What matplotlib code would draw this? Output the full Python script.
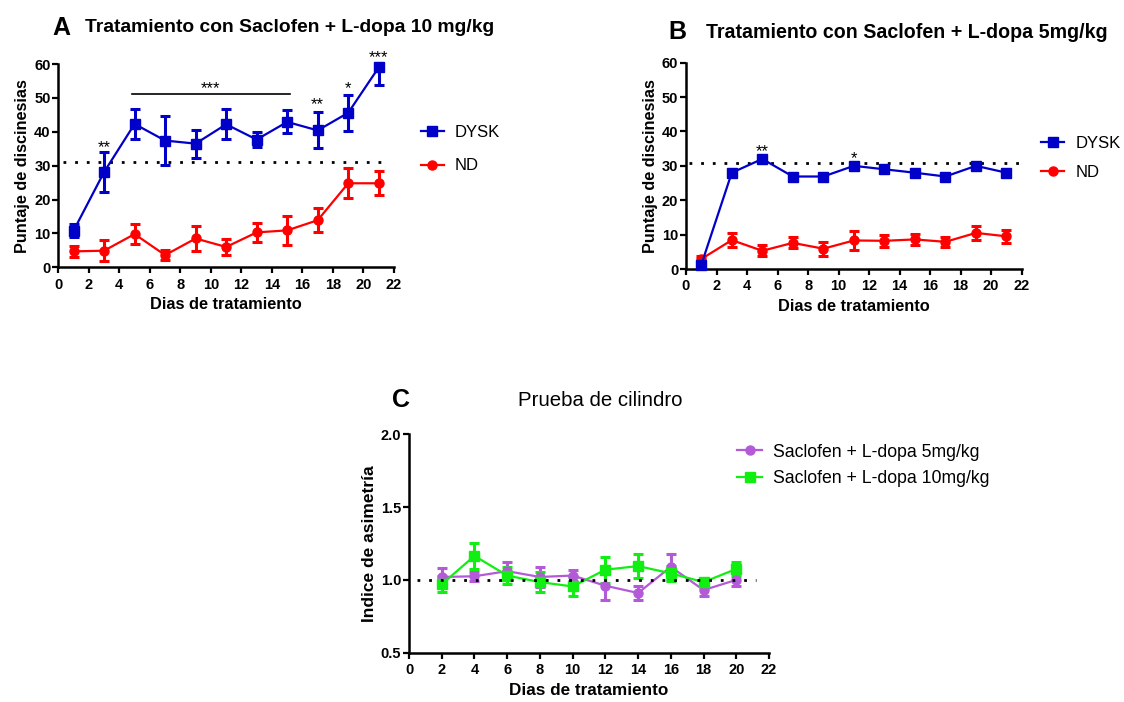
import matplotlib.pyplot as plt
from matplotlib.lines import Line2D

# --- data ---
dias = [1, 3, 5, 7, 9, 11, 13, 15, 17, 19, 21]

dysk_10 = [10.8, 28.1, 42.3, 37.4, 36.5, 42.2, 37.7, 42.9, 40.4, 45.6, 59.0]
dysk_10_err_low = [1.9, 5.8, 4.4, 7.2, 4.1, 4.4, 2.3, 3.4, 5.3, 5.3, 5.2]
dysk_10_err_up = [1.9, 5.8, 4.4, 7.2, 4.1, 4.4, 2.3, 3.4, 5.3, 5.3, 0.0]
nd_10 = [4.7, 4.9, 9.8, 3.6, 8.5, 6.0, 10.3, 10.9, 13.9, 24.8, 24.8]
nd_10_err = [1.6, 3.1, 2.9, 1.4, 3.6, 2.3, 2.7, 4.2, 3.5, 4.4, 3.5]

dysk_5 = [1.2, 28.0, 32.0, 26.9, 26.9, 30.0, 29.0, 28.0, 26.9, 30.0, 28.0]
dysk_5_err = [0.4, 0.4, 0.4, 0.4, 0.4, 0.4, 0.4, 0.4, 0.4, 0.4, 0.4]
nd_5 = [2.9, 8.4, 5.3, 7.6, 5.9, 8.3, 8.2, 8.6, 7.9, 10.5, 9.5]
nd_5_err = [0.9, 2.1, 1.6, 1.6, 2.0, 2.8, 1.8, 1.7, 1.5, 2.1, 1.8]

dias_c = [2, 4, 6, 8, 10, 12, 14, 16, 18, 20]
asim_5 = [1.02, 1.025, 1.06, 1.02, 1.03, 0.96, 0.91, 1.09, 0.93, 1.0]
asim_5_err = [0.06, 0.03, 0.06, 0.07, 0.04, 0.10, 0.05, 0.09, 0.04, 0.045]
asim_10 = [0.97, 1.165, 1.03, 0.985, 0.955, 1.07, 1.095, 1.045, 0.985, 1.075]
asim_10_err = [0.055, 0.09, 0.06, 0.07, 0.065, 0.088, 0.08, 0.05, 0.02, 0.05]

umbral_dysk_a = 31.1
umbral_dysk_b = 30.7
umbral_asim = 1.0

W, H = 1124, 702

plt.rcParams['font.family'] = ['Liberation Sans', 'DejaVu Sans']

BLUE = '#0000c8'
RED = '#ff0000'
PURPLE = '#b45ad8'
GREEN = '#11ee11'

fig = plt.figure(figsize=(W / 100, H / 100), dpi=100)


def ax_at(l, r, t, b):
    return fig.add_axes([l / W, 1 - b / H, (r - l) / W, (b - t) / H])


def style(ax):
    for s in ['top', 'right']:
        ax.spines[s].set_visible(False)
    for s in ['left', 'bottom']:
        ax.spines[s].set_linewidth(1.8)
    ax.tick_params(width=1.6, length=4, direction='out')
    ax.tick_params(axis='x', pad=3.5)
    ax.tick_params(axis='y', pad=1.5)
    for lab in ax.get_xticklabels() + ax.get_yticklabels():
        lab.set_fontweight('bold')
        lab.set_fontsize(10.5)


def serie(ax, x, y, e, color, marker, ms, cap=3.8):
    ax.errorbar(x, y, yerr=e, color=color, marker=marker, ms=ms, lw=1.6,
                elinewidth=2.2, capsize=cap, capthick=2.2,
                clip_on=False, zorder=3)


def handle(color, marker, ms):
    return Line2D([], [], color=color, marker=marker, ms=ms, lw=1.6)


def stars(ax, pts):
    for xs, ys, t in pts:
        ax.text(xs, ys, t, ha='center', va='baseline', fontsize=12)


# ---- Panel A ----
axA = ax_at(58.3, 394, 64, 267.3)
serie(axA, dias, nd_10, nd_10_err, RED, 'o', 6.5)
serie(axA, dias, dysk_10, [dysk_10_err_low, dysk_10_err_up], BLUE, 's', 7.3)
axA.plot([0.3, 21.6], [umbral_dysk_a] * 2, color='k', ls=(0, (1, 3.2)), lw=2.0)
axA.plot([4.8, 15.2], [51.1, 51.1], color='k', lw=1.2)
stars(axA, [(10, 51.5, '***'), (3, 33.9, '**'), (17, 46.6, '**'),
            (19, 51.5, '*'), (21, 60.5, '***')])
axA.set_xlim(0, 22)
axA.set_ylim(0, 60)
axA.set_xticks(range(0, 23, 2))
axA.set_yticks(range(0, 61, 10))
axA.set_xlabel('Dias de tratamiento', fontweight='bold', fontsize=11.8, labelpad=4)
axA.set_ylabel('Puntaje de discinesias', fontweight='bold', fontsize=11.7, labelpad=3)
style(axA)
axA.legend([handle(BLUE, 's', 7.3), handle(RED, 'o', 6.5)], ['DYSK', 'ND'],
           loc='center left', bbox_to_anchor=(1.035, 0.581),
           frameon=False, fontsize=12, handlelength=1.38, labelspacing=1.11,
           handletextpad=0.66)
fig.text(52 / W, 1 - 28 / H, 'A', fontsize=18, fontweight='bold', va='center')
fig.text(85 / W, 1 - 28 / H, 'Tratamiento con Saclofen + L-dopa 10 mg/kg',
         fontsize=13.9, fontweight='bold', va='center')

# ---- Panel B ----
axB = ax_at(686, 1021.7, 62.7, 269)
serie(axB, dias, nd_5, nd_5_err, RED, 'o', 6.5)
serie(axB, dias, dysk_5, dysk_5_err, BLUE, 's', 7.3, cap=3.0)
axB.plot([0.2, 22], [umbral_dysk_b] * 2, color='k', ls=(0, (1, 3.2)), lw=2.0)
stars(axB, [(5, 32.7, '**'), (11, 30.9, '*')])
axB.set_xlim(0, 22)
axB.set_ylim(0, 60)
axB.set_xticks(range(0, 23, 2))
axB.set_yticks(range(0, 61, 10))
axB.set_xlabel('Dias de tratamiento', fontweight='bold', fontsize=11.8, labelpad=4)
axB.set_ylabel('Puntaje de discinesias', fontweight='bold', fontsize=11.7, labelpad=3)
style(axB)
axB.legend([handle(BLUE, 's', 7.3), handle(RED, 'o', 6.5)], ['DYSK', 'ND'],
           loc='center left', bbox_to_anchor=(1.014, 0.539),
           frameon=False, fontsize=12, handlelength=1.38, labelspacing=0.87,
           handletextpad=0.66)
fig.text(668 / W, 1 - 32 / H, 'B', fontsize=18, fontweight='bold', va='center')
fig.text(706 / W, 1 - 32 / H, 'Tratamiento con Saclofen + L-dopa 5mg/kg',
         fontsize=14.1, fontweight='bold', va='center')

# ---- Panel C ----
axC = ax_at(409, 769, 434.3, 652.7)
serie(axC, dias_c, asim_5, asim_5_err, PURPLE, 'o', 6.5)
serie(axC, dias_c, asim_10, asim_10_err, GREEN, 's', 7.3)
axC.plot([0.5, 21.2], [umbral_asim] * 2, color='k', ls=(0, (1, 3.2)), lw=2.0, zorder=4)
axC.set_xlim(0, 22)
axC.set_ylim(0.5, 2.0)
axC.set_xticks(range(0, 23, 2))
axC.set_yticks([0.5, 1.0, 1.5, 2.0])
axC.set_xlabel('Dias de tratamiento', fontweight='bold', fontsize=12.3, labelpad=4)
axC.set_ylabel('Indice de asimetría', fontweight='bold', fontsize=12.5, labelpad=3)
style(axC)
axC.legend([handle(PURPLE, 'o', 6.5), handle(GREEN, 's', 7.3)],
           ['Saclofen + L-dopa 5mg/kg', 'Saclofen + L-dopa 10mg/kg'],
           loc='center left', bbox_to_anchor=(0.868, 0.859), frameon=False,
           fontsize=12.7, handlelength=1.38, labelspacing=0.52,
           handletextpad=0.66)
fig.text(392 / W, 1 - 400 / H, 'C', fontsize=18, fontweight='bold', va='center')
fig.text(600 / W, 1 - 400 / H, 'Prueba de cilindro', fontsize=14.7,
         ha='center', va='center')

fig.savefig('out.png', dpi=100)
